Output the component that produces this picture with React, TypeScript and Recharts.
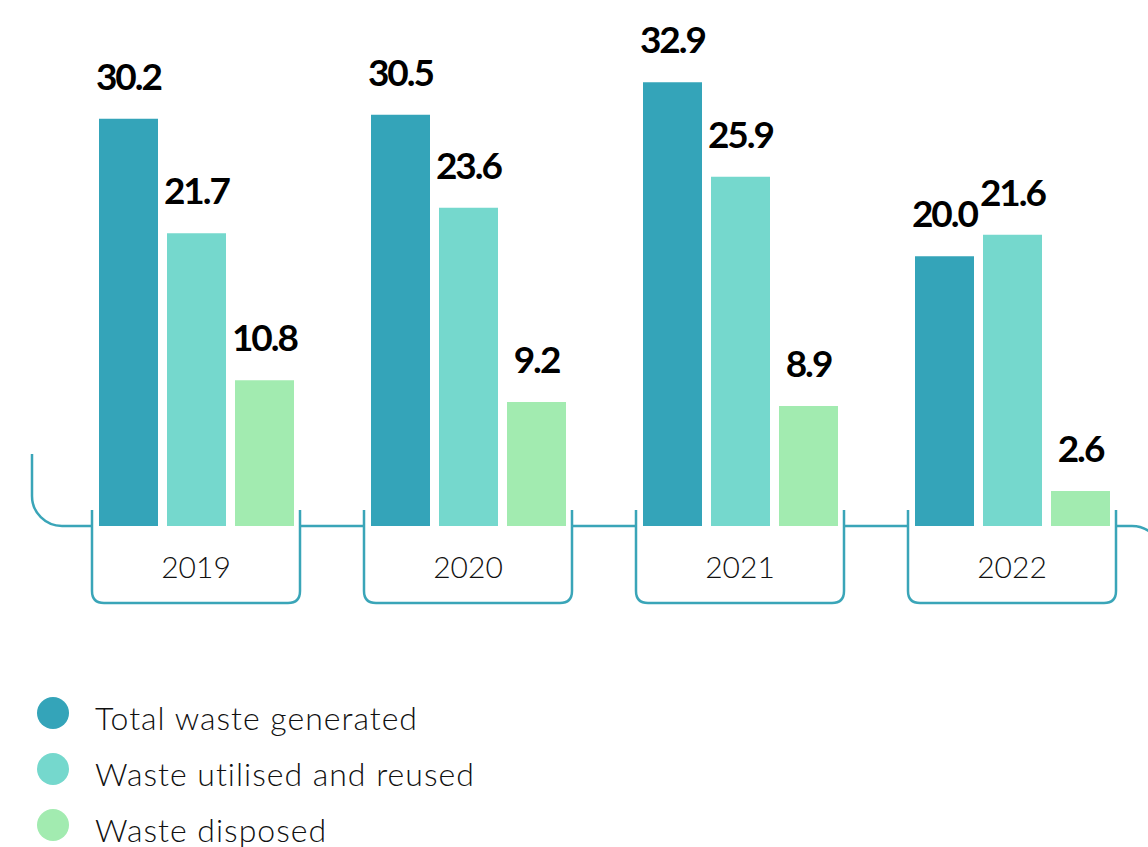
import { BarChart, Bar, XAxis, YAxis, LabelList } from 'recharts';

// waste figures per year
const years = ['2019', '2020', '2021', '2022'];
const totalGenerated = [30.2, 30.5, 32.9, 20.0];
const utilisedReused = [21.7, 23.6, 25.9, 21.6];
const disposed = [10.8, 9.2, 8.9, 2.6];

const seriesNames = ['Total waste generated', 'Waste utilised and reused', 'Waste disposed'];
const seriesKeys = ['total', 'reused', 'disposed'];
const seriesColors = ['#34A4B9', '#75D8CD', '#A2EBB0'];

const data = years.map((year, i) => ({
  year,
  total: totalGenerated[i],
  reused: utilisedReused[i],
  disposed: disposed[i],
}));

const W = 1148;
const H = 640;
const margin = { top: 54, right: 0, left: 60, bottom: 0 };
const step = (W - margin.left - margin.right) / years.length;
const lineColor = '#3AA5B8';
const font = 'Lato, "Noto Sans", sans-serif';

const YearTick = (props: any) => {
  const { x, y, payload, index } = props;
  const half = 104;
  const r = 12;
  const depth = 77;
  const left = x - half;
  const right = x + half;
  const top = y - 16;
  const bracket = `M${left},${top} L${left},${y + depth - r} Q${left},${y + depth} ${left + r},${y + depth} L${right - r},${y + depth} Q${right},${y + depth} ${right},${y + depth - r} L${right},${top}`;
  let extra = '';
  if (index === 0) {
    // left end curling up
    extra += `M${left},${y} L${left - 30},${y} A30,30 0 0 1 ${left - 60},${y - 30} L${left - 60},${y - 72}`;
  }
  if (index < years.length - 1) {
    extra += ` M${right},${y} L${x + step - half},${y}`;
  } else {
    extra += ` M${right},${y} L${right + 16},${y} A30,30 0 0 1 ${right + 46},${y + 30}`;
  }
  return (
    <g>
      <path d={bracket} fill='none' stroke={lineColor} strokeWidth={2.5} />
      <path d={extra} fill='none' stroke={lineColor} strokeWidth={2.5} />
      <text x={x} y={y + 52} textAnchor='middle' fill='#111' fontSize={30} fontWeight={300} fontFamily={font}>
        {payload.value}
      </text>
    </g>
  );
};

const App = () => {
  return (
    <div style={{ position: 'absolute', left: 0, top: 0, width: W, height: 847, background: '#fff', overflow: 'hidden' }}>
      <BarChart width={W} height={H} data={data} margin={margin} barSize={59} barGap={9}>
        <XAxis
          dataKey='year'
          axisLine={false}
          tickLine={false}
          tickSize={0}
          tickMargin={0}
          height={H - 526}
          interval={0}
          tick={<YearTick />}
        />
        <YAxis hide domain={[0, 35]} />
        {seriesKeys.map((key, i) => (
          <Bar key={key} dataKey={key} name={seriesNames[i]} fill={seriesColors[i]} isAnimationActive={false}>
            <LabelList
              dataKey={key}
              position='top'
              offset={29}
              formatter={(v: any) => Number(v).toFixed(1)}
              style={{ fill: '#000', fontSize: 37, fontWeight: 700, fontFamily: font, letterSpacing: -2 }}
            />
          </Bar>
        ))}
      </BarChart>
      <div style={{ position: 'absolute', left: 37, top: 685, fontFamily: font }}>
        {seriesNames.map((name, i) => (
          <div key={name} style={{ display: 'flex', alignItems: 'center', height: 56 }}>
            <div style={{ width: 32, height: 32, borderRadius: 16, background: seriesColors[i], marginRight: 26 }} />
            <span style={{ fontSize: 32, fontWeight: 300, color: '#111', letterSpacing: 1, position: 'relative', top: 4 }}>{name}</span>
          </div>
        ))}
      </div>
    </div>
  );
};

export default App;
